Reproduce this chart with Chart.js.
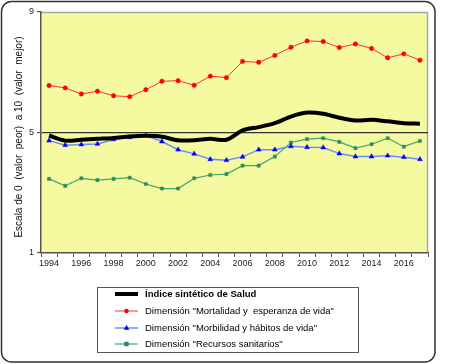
<!DOCTYPE html>
<html><head><meta charset="utf-8">
<script src="https://cdn.jsdelivr.net/npm/chart.js@4"></script>
<style>html,body{margin:0;padding:0;background:#fff;}#wrap{width:450px;height:364px;position:relative;}</style>
</head><body><div id="wrap"><canvas id="c" width="450" height="364"></canvas></div>
<script>
const years = ["1994","1995","1996","1997","1998","1999","2000","2001","2002","2003","2004","2005","2006","2007","2008","2009","2010","2011","2012","2013","2014","2015","2016","2017"];
const indice = [4.90,4.73,4.76,4.79,4.82,4.87,4.89,4.86,4.74,4.74,4.79,4.76,5.07,5.18,5.31,5.53,5.66,5.62,5.49,5.40,5.42,5.37,5.31,5.29];
const mortalidad = [6.56,6.48,6.28,6.37,6.22,6.19,6.42,6.70,6.72,6.57,6.87,6.82,7.36,7.33,7.56,7.83,8.04,8.02,7.82,7.94,7.79,7.48,7.61,7.40];
const morbilidad = [4.73,4.58,4.60,4.62,4.77,4.84,4.90,4.70,4.43,4.29,4.11,4.08,4.19,4.43,4.43,4.54,4.51,4.50,4.30,4.20,4.20,4.23,4.18,4.11];
const recursos = [3.46,3.23,3.48,3.42,3.46,3.50,3.29,3.14,3.14,3.48,3.59,3.62,3.90,3.90,4.20,4.67,4.78,4.81,4.69,4.48,4.61,4.81,4.53,4.72];
const yTicks = [1,5,9];
const labels = ["Índice sintético de Salud","Dimensión \"Mortalidad y  esperanza de vida\"","Dimensión \"Morbilidad y hábitos de vida\"","Dimensión \"Recursos sanitarios\""];
const yTitle = "Escala de 0  (valor  peor)  a 10  (valor  mejor)";

const FONT = "'Liberation Sans', Arial, sans-serif";
const PLOT = {left:41, right:428, top:12, bottom:253};

const framePlugin = {
  id:'frame',
  beforeDraw(chart){
    const ctx = chart.ctx, a = chart.chartArea;
    ctx.save();
    ctx.fillStyle = '#fff';
    ctx.fillRect(0,0,chart.width,chart.height);
    ctx.strokeStyle = '#333';
    ctx.lineWidth = 1.5;
    ctx.beginPath();
    ctx.roundRect(1.5,1.5,433.5,360.5,10);
    ctx.stroke();
    ctx.fillStyle = '#F5F9A0';
    ctx.fillRect(a.left,a.top,a.right-a.left,a.bottom-a.top);
    ctx.strokeStyle = '#A8A8A8';
    ctx.lineWidth = 1.5;
    ctx.beginPath();
    ctx.moveTo(a.left,a.top+0.5); ctx.lineTo(a.right-0.5,a.top+0.5); ctx.lineTo(a.right-0.5,a.bottom);
    ctx.stroke();
    // y axis title
    ctx.translate(19,137);
    ctx.rotate(-Math.PI/2);
    ctx.fillStyle='#111';
    ctx.font='10px '+FONT;
    ctx.textAlign='center';
    ctx.textBaseline='middle';
    ctx.fillText(yTitle,0,0);
    ctx.restore();
  },
  afterDraw(chart){
    const ctx = chart.ctx;
    ctx.save();
    const bx=97, by=287, bw=261, bh=65;
    ctx.strokeStyle='#555'; ctx.lineWidth=1;
    ctx.strokeRect(bx+0.5,by+0.5,bw,bh);
    const rows=[294,311,328,344];
    chart.data.datasets.forEach((ds,i)=>{
      const y=rows[i];
      ctx.strokeStyle=ds.borderColor; ctx.lineWidth=ds.borderWidth;
      ctx.beginPath(); ctx.moveTo(115,y); ctx.lineTo(138,y); ctx.stroke();
      if(ds.pointRadius>0){
        ctx.fillStyle=ds.pointBackgroundColor;
        const r=ds.pointRadius;
        ctx.beginPath();
        if(ds.pointStyle==='triangle'){ctx.moveTo(126.5,y-r-0.5);ctx.lineTo(126.5+r,y+r-1);ctx.lineTo(126.5-r,y+r-1);ctx.closePath();}
        else if(ds.pointStyle==='rect'){ctx.rect(126.5-r,y-r,2*r,2*r);}
        else {ctx.arc(126.5,y,r,0,Math.PI*2);}
        ctx.fill();
      }
      ctx.fillStyle='#000';
      ctx.font=(i===0?'bold ':'')+'9.5px '+FONT;
      ctx.textBaseline='middle';
      ctx.fillText(ds.label,145,y+0.5);
    });
    ctx.restore();
  }
};

new Chart(document.getElementById('c'),{
  type:'line',
  data:{labels:years,datasets:[
    {label:labels[0],data:indice,borderColor:'#000',backgroundColor:'#000',borderWidth:4,pointRadius:0,tension:0.3,order:0},
    {label:labels[1],data:mortalidad,borderColor:'#FF3030',backgroundColor:'#FF0000',pointBackgroundColor:'#FF0000',pointBorderColor:'#FF0000',borderWidth:1,pointRadius:2.2,pointBorderWidth:0.5,pointStyle:'circle',order:1},
    {label:labels[2],data:morbilidad,borderColor:'#6A8CFF',backgroundColor:'#0000FF',pointBackgroundColor:'#0000FF',pointBorderColor:'#0000FF',borderWidth:1.5,pointRadius:2.8,pointBorderWidth:0.5,pointStyle:'triangle',order:2},
    {label:labels[3],data:recursos,borderColor:'#3FA868',backgroundColor:'#2E8B57',pointBackgroundColor:'#2E8B57',pointBorderColor:'#2E8B57',borderWidth:1.2,pointRadius:2.2,pointBorderWidth:0.5,pointStyle:'rect',order:3}
  ]},
  options:{
    responsive:false,animation:false,
    layout:{padding:{left:0,right:450-PLOT.right,top:PLOT.top,bottom:0}},
    plugins:{legend:{display:false},tooltip:{enabled:false}},
    scales:{
      x:{type:'category',offset:true,
        grid:{offset:true,drawOnChartArea:false,color:'#555',tickLength:4,tickColor:'#555'},
        border:{display:true,color:'#555',width:1.5},
        ticks:{autoSkip:false,maxRotation:0,padding:1,color:'#222',font:{family:FONT,size:9},
          callback:function(v,i){const l=this.getLabelForValue(v);return (parseInt(l)%2===0)?l:'';}},
        afterFit(s){s.height=364-PLOT.bottom;}
      },
      y:{min:1,max:9,
        afterBuildTicks(s){s.ticks=yTicks.map(v=>({value:v}));},
        grid:{color:(c)=>c.tick&&c.tick.value===5?'#333':'rgba(0,0,0,0)',lineWidth:1.2,tickLength:4,tickColor:'#555'},
        border:{display:true,color:'#555',width:1.5},
        ticks:{padding:3,color:'#222',font:{family:FONT,size:9}},
        title:{display:false},
        afterFit(s){s.width=PLOT.left;}
      }
    }
  },
  plugins:[framePlugin]
});
</script></body></html>
